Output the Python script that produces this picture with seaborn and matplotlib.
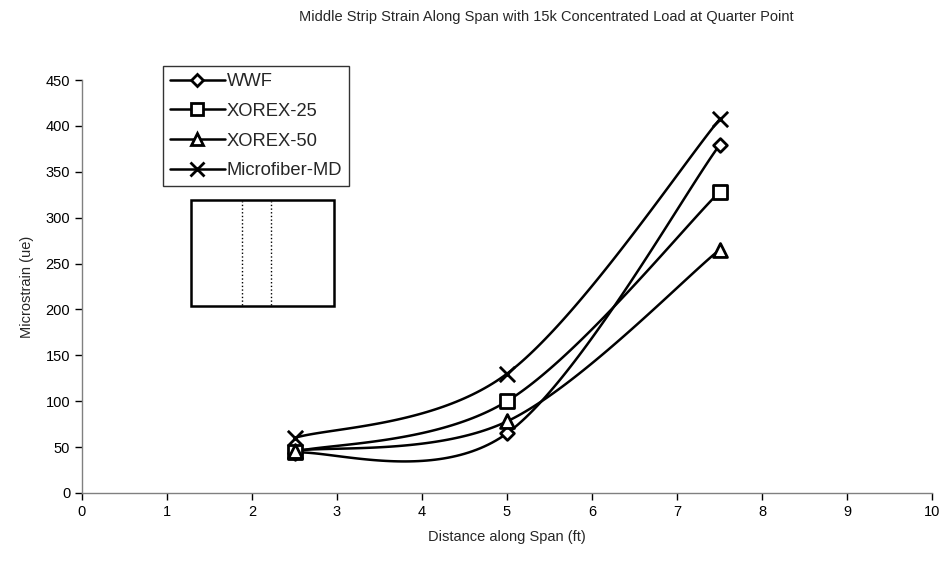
import numpy as np
import pandas as pd
import seaborn as sns
import matplotlib.pyplot as plt
from matplotlib.lines import Line2D
from matplotlib.patches import Rectangle

# data
distance = [2.5, 5.0, 7.5]
series_names = ["WWF", "XOREX-25", "XOREX-50", "Microfiber-MD"]
wwf = [44, 65, 379]
xorex25 = [45, 100, 328]
xorex50 = [46, 78, 265]
microfiber = [60, 130, 407]
markers = ["D", "s", "^", "x"]
marker_sizes = [7, 10, 10, 11]


def excel_smooth(xs, ys, n=60):
    # Catmull-Rom style bezier like Excel's "smoothed line"
    pts = np.column_stack([xs, ys]).astype(float)
    out = []
    for i in range(len(pts) - 1):
        p0 = pts[max(i - 1, 0)]
        p1 = pts[i]
        p2 = pts[i + 1]
        p3 = pts[min(i + 2, len(pts) - 1)]
        c1 = p1 + (p2 - p0) / 6
        c2 = p2 - (p3 - p1) / 6
        t = np.linspace(0, 1, n)[:, None]
        seg = (1 - t) ** 3 * p1 + 3 * (1 - t) ** 2 * t * c1 + 3 * (1 - t) * t ** 2 * c2 + t ** 3 * p2
        out.append(seg if i == 0 else seg[1:])
    return np.vstack(out)


sns.set_style("ticks")
plt.rcParams['font.family'] = ['Liberation Sans', 'DejaVu Sans']
plt.rcParams['font.size'] = 10.5

fig = plt.figure(figsize=(9.43, 5.71), dpi=100)
ax = fig.add_axes([82 / 943, 1 - 493 / 571, 850 / 943, 413 / 571])

all_vals = [wwf, xorex25, xorex50, microfiber]
curves = []
for name, vals in zip(series_names, all_vals):
    c = excel_smooth(distance, vals)
    curves.append(pd.DataFrame({"x": c[:, 0], "y": c[:, 1], "series": name}))
curve_df = pd.concat(curves, ignore_index=True)

sns.lineplot(data=curve_df, x="x", y="y", units="series", estimator=None,
             color="black", lw=1.8, sort=False, ax=ax, legend=False)

handles = []
for name, vals, m, ms in zip(series_names, all_vals, markers, marker_sizes):
    pts = pd.DataFrame({"x": distance, "y": vals})
    if m == "x":
        sns.scatterplot(data=pts, x="x", y="y", marker="x", s=ms ** 2, color="black",
                        linewidth=2, ax=ax, zorder=5, legend=False)
    else:
        sns.scatterplot(data=pts, x="x", y="y", marker=m, s=ms ** 2, facecolor="white",
                        edgecolor="black", linewidth=2, ax=ax, zorder=5, legend=False)
    handles.append(Line2D([0], [0], color="black", lw=1.8, marker=m, markersize=ms * 0.9,
                          markerfacecolor="white", markeredgecolor="black", markeredgewidth=2,
                          label=name))

ax.set_xlim(0, 10)
ax.set_ylim(0, 450)
ax.set_xticks(range(0, 11))
ax.set_yticks(range(0, 451, 50))
ax.tick_params(direction="out", length=5, width=1, labelsize=10.5, colors="black")
sns.despine(ax=ax)
for s in ["left", "bottom"]:
    ax.spines[s].set_color("#808080")
    ax.spines[s].set_linewidth(1)
ax.set_xlabel("Distance along Span (ft)", fontsize=10.5, labelpad=8)
ax.set_ylabel("Microstrain (ue)", fontsize=10.5, labelpad=8)

fig.text(546 / 943, 1 - 17 / 571, "Middle Strip Strain Along Span with 15k Concentrated Load at Quarter Point",
         ha="center", va="center", fontsize=10.5)

leg = fig.legend(handles=handles, loc="upper left", bbox_to_anchor=(163 / 943, 1 - 66 / 571),
                 frameon=True, fancybox=False, edgecolor="black", fontsize=13.2,
                 handlelength=3.0, handletextpad=0.1, labelspacing=0.7, borderpad=0.38,
                 borderaxespad=0)
leg.get_frame().set_linewidth(1)

# small strip diagram
fig.patches.append(Rectangle((191 / 943, 1 - 306 / 571), 143 / 943, 106 / 571,
                             transform=fig.transFigure, fill=False, edgecolor="black", lw=1.8))
for xp in [242, 271]:
    fig.add_artist(Line2D([xp / 943, xp / 943], [1 - 305 / 571, 1 - 201 / 571],
                          transform=fig.transFigure, color="black", lw=1, ls=":"))

fig.savefig("out.png", dpi=100)
